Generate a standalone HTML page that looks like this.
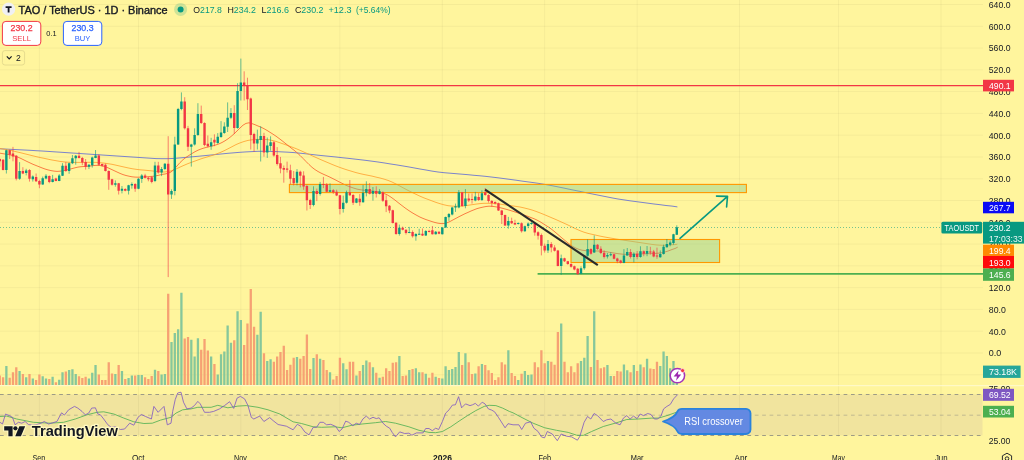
<!DOCTYPE html><html><head><meta charset="utf-8"><title>TAO / TetherUS chart</title><style>html,body{margin:0;padding:0;background:#FFF59D;overflow:hidden}svg{display:block}</style></head><body><svg width="1024" height="460" viewBox="0 0 1024 460" font-family="Liberation Sans, sans-serif">
<rect width="1024" height="460" fill="#FFF59D"/>
<rect x="0" y="394.4" width="982.5" height="41" fill="#F1E49E"/>
<path d="M0 394.5H982.5M0 435.5H982.5" stroke="#6A6D78" stroke-opacity="0.8" stroke-width="0.8" stroke-dasharray="3.7 3.7" fill="none"/>
<path d="M0 415.2H982.5" stroke="#6A6D78" stroke-opacity="0.45" stroke-width="0.8" stroke-dasharray="3.7 3.7" fill="none"/>
<path d="M0 374.8H983 M0 353.0H983 M0 331.2H983 M0 309.4H983 M0 287.7H983 M0 265.9H983 M0 244.1H983 M0 222.3H983 M0 200.5H983 M0 178.8H983 M0 157.0H983 M0 135.2H983 M0 113.4H983 M0 91.6H983 M0 69.9H983 M0 48.1H983 M0 26.3H983 M0 4.5H983 M0 -17.3H983 M39.4 0V437 M138.5 0V437 M240.9 0V437 M339.9 0V437 M442.3 0V437 M544.7 0V437 M637.2 0V437 M739.5 0V437 M838.6 0V437 M941.0 0V437" stroke="#000" stroke-opacity="0.038" stroke-width="1" fill="none"/>
<path d="M5.22 385V366.0H7.52V385ZM18.43 385V371.1H20.73V385ZM25.04 385V377.2H27.34V385ZM31.65 385V378.5H33.95V385ZM41.55 385V376.3H43.85V385ZM44.85 385V378.5H47.15V385ZM51.46 385V376.7H53.76V385ZM58.07 385V379.8H60.37V385ZM61.37 385V372.2H63.67V385ZM67.97 385V370.0H70.27V385ZM71.28 385V369.3H73.58V385ZM74.58 385V374.0H76.88V385ZM87.79 385V378.5H90.09V385ZM91.09 385V372.7H93.39V385ZM94.39 385V365.1H96.69V385ZM114.21 385V374.0H116.51V385ZM120.81 385V371.1H123.11V385ZM127.42 385V378.1H129.72V385ZM130.72 385V375.6H133.02V385ZM137.32 385V375.1H139.62V385ZM140.63 385V375.1H142.93V385ZM153.84 385V369.8H156.14V385ZM160.44 385V374.5H162.74V385ZM163.75 385V374.0H166.05V385ZM170.35 385V342.0H172.65V385ZM173.65 385V333.0H175.95V385ZM176.96 385V329.2H179.26V385ZM180.26 385V292.7H182.56V385ZM190.17 385V339.8H192.47V385ZM193.47 385V356.6H195.77V385ZM196.77 385V338.2H199.07V385ZM209.98 385V356.6H212.28V385ZM216.59 385V374.5H218.89V385ZM219.89 385V354.3H222.19V385ZM223.19 385V351.4H225.49V385ZM226.49 385V325.6H228.79V385ZM229.80 385V342.7H232.10V385ZM236.40 385V311.3H238.70V385ZM239.70 385V320.1H242.00V385ZM256.22 385V334.8H258.51V385ZM259.52 385V311.8H261.82V385ZM266.12 385V361.0H268.42V385ZM269.43 385V359.2H271.72V385ZM295.85 385V357.0H298.14V385ZM312.36 385V358.1H314.66V385ZM318.96 385V358.8H321.26V385ZM328.87 385V372.2H331.17V385ZM342.08 385V363.3H344.38V385ZM345.38 385V369.3H347.68V385ZM355.29 385V375.6H357.59V385ZM361.90 385V365.1H364.19V385ZM365.20 385V360.4H367.50V385ZM371.80 385V367.3H374.10V385ZM378.41 385V377.8H380.71V385ZM398.22 385V356.1H400.52V385ZM408.13 385V370.0H410.43V385ZM414.74 385V368.2H417.03V385ZM418.04 385V372.2H420.34V385ZM424.64 385V373.8H426.94V385ZM434.55 385V376.7H436.85V385ZM441.16 385V378.5H443.45V385ZM444.46 385V366.2H446.76V385ZM447.76 385V370.0H450.06V385ZM451.06 385V368.9H453.36V385ZM454.37 385V367.1H456.66V385ZM457.67 385V352.1H459.97V385ZM464.27 385V353.2H466.57V385ZM474.18 385V373.4H476.48V385ZM480.79 385V363.9H483.08V385ZM507.21 385V350.3H509.50V385ZM517.11 385V380.1H519.41V385ZM523.72 385V371.1H526.02V385ZM527.02 385V375.1H529.32V385ZM530.32 385V374.5H532.62V385ZM546.84 385V361.0H549.13V385ZM560.05 385V323.6H562.35V385ZM579.86 385V361.0H582.16V385ZM583.16 385V357.7H585.46V385ZM586.47 385V336.0H588.76V385ZM593.07 385V311.3H595.37V385ZM606.28 385V365.1H608.58V385ZM609.58 385V376.0H611.88V385ZM622.79 385V364.4H625.09V385ZM626.10 385V370.2H628.39V385ZM632.70 385V365.1H635.00V385ZM639.31 385V364.4H641.61V385ZM645.91 385V358.8H648.21V385ZM659.12 385V366.0H661.42V385ZM662.42 385V351.6H664.72V385ZM665.73 385V356.1H668.02V385ZM669.03 385V368.2H671.33V385ZM672.33 385V361.0H674.63V385ZM675.63 385V369.3H677.93V385Z" fill="#86C79B"/>
<path d="M-1.38 385V375.6H0.92V385ZM1.92 385V377.2H4.22V385ZM8.53 385V377.8H10.83V385ZM11.83 385V372.2H14.13V385ZM15.13 385V367.3H17.43V385ZM21.74 385V374.0H24.04V385ZM28.34 385V374.0H30.64V385ZM34.95 385V380.1H37.25V385ZM38.25 385V374.5H40.55V385ZM48.16 385V379.0H50.46V385ZM54.76 385V382.3H57.06V385ZM64.67 385V371.6H66.97V385ZM77.88 385V376.3H80.18V385ZM81.18 385V378.1H83.48V385ZM84.48 385V376.7H86.78V385ZM97.69 385V374.5H100.00V385ZM101.00 385V380.1H103.30V385ZM104.30 385V380.1H106.60V385ZM107.60 385V362.2H109.90V385ZM110.91 385V373.4H113.21V385ZM117.51 385V365.1H119.81V385ZM124.12 385V379.0H126.42V385ZM134.02 385V375.6H136.32V385ZM143.93 385V377.2H146.23V385ZM147.23 385V379.0H149.53V385ZM150.53 385V376.0H152.84V385ZM157.14 385V371.1H159.44V385ZM167.05 385V293.8H169.35V385ZM183.56 385V338.6H185.86V385ZM186.86 385V337.1H189.16V385ZM200.07 385V349.8H202.37V385ZM203.38 385V339.1H205.68V385ZM206.68 385V350.5H208.98V385ZM213.28 385V363.9H215.58V385ZM233.10 385V340.2H235.40V385ZM243.01 385V344.9H245.31V385ZM246.31 385V323.4H248.61V385ZM249.61 385V288.9H251.91V385ZM252.91 385V326.8H255.21V385ZM262.82 385V353.2H265.12V385ZM272.73 385V361.7H275.03V385ZM276.03 385V356.6H278.33V385ZM279.33 385V352.1H281.63V385ZM282.64 385V345.8H284.94V385ZM285.94 385V370.0H288.24V385ZM289.24 385V364.8H291.54V385ZM292.54 385V357.7H294.84V385ZM299.15 385V358.8H301.45V385ZM302.45 385V355.9H304.75V385ZM305.75 385V334.6H308.05V385ZM309.06 385V369.1H311.35V385ZM315.66 385V354.3H317.96V385ZM322.27 385V360.1H324.56V385ZM325.57 385V370.0H327.87V385ZM332.17 385V379.6H334.47V385ZM335.48 385V376.0H337.77V385ZM338.78 385V357.7H341.08V385ZM348.69 385V361.7H350.98V385ZM351.99 385V361.7H354.29V385ZM358.59 385V371.1H360.89V385ZM368.50 385V362.2H370.80V385ZM375.11 385V372.7H377.40V385ZM381.71 385V376.7H384.01V385ZM385.01 385V368.2H387.31V385ZM388.31 385V371.1H390.61V385ZM391.62 385V362.8H393.92V385ZM394.92 385V362.2H397.22V385ZM401.53 385V376.0H403.82V385ZM404.83 385V375.6H407.13V385ZM411.43 385V368.9H413.73V385ZM421.34 385V372.2H423.64V385ZM427.95 385V377.8H430.25V385ZM431.25 385V372.7H433.55V385ZM437.85 385V378.1H440.15V385ZM460.97 385V365.1H463.27V385ZM467.58 385V362.2H469.88V385ZM470.88 385V374.0H473.18V385ZM477.48 385V366.2H479.78V385ZM484.09 385V365.1H486.39V385ZM487.39 385V370.2H489.69V385ZM490.69 385V372.9H492.99V385ZM494.00 385V380.1H496.29V385ZM497.30 385V377.2H499.60V385ZM500.60 385V362.2H502.90V385ZM503.90 385V364.4H506.20V385ZM510.51 385V372.9H512.81V385ZM513.81 385V376.0H516.11V385ZM520.42 385V373.8H522.72V385ZM533.63 385V362.2H535.93V385ZM536.93 385V367.3H539.23V385ZM540.23 385V350.3H542.53V385ZM543.53 385V363.3H545.83V385ZM550.14 385V361.7H552.44V385ZM553.44 385V364.8H555.74V385ZM556.74 385V331.9H559.04V385ZM563.35 385V361.7H565.65V385ZM566.65 385V372.2H568.95V385ZM569.95 385V366.2H572.25V385ZM573.25 385V372.2H575.55V385ZM576.56 385V363.3H578.86V385ZM589.77 385V367.1H592.07V385ZM596.37 385V359.9H598.67V385ZM599.68 385V368.2H601.98V385ZM602.98 385V367.3H605.28V385ZM612.88 385V376.0H615.18V385ZM616.19 385V371.1H618.49V385ZM619.49 385V371.6H621.79V385ZM629.40 385V372.2H631.70V385ZM636.00 385V371.1H638.30V385ZM642.61 385V367.3H644.91V385ZM649.21 385V368.4H651.51V385ZM652.51 385V369.1H654.81V385ZM655.82 385V361.7H658.12V385Z" fill="#F6A173"/>
<path d="M0 385.7H1024" stroke="#FFFAD0" stroke-width="1"/>
<path d="M0.0 148.8L6.0 149.1L12.0 149.4L18.0 149.7L24.0 150.0L30.0 150.3L36.0 150.7L42.0 151.0L48.0 151.4L54.0 151.8L60.0 152.2L66.0 152.6L72.0 153.0L78.0 153.4L84.0 153.8L90.0 154.2L96.0 154.6L102.0 155.0L108.0 155.4L114.0 155.8L120.0 156.2L126.0 156.6L132.0 157.0L138.0 157.4L144.0 157.8L150.0 158.2L156.0 158.6L162.0 158.7L168.0 158.7L174.0 158.4L180.0 157.9L186.0 157.4L192.0 156.8L198.0 156.3L204.0 155.7L210.0 155.1L216.0 154.5L222.0 153.9L228.0 153.3L234.0 152.8L240.0 152.3L246.0 151.9L252.0 151.6L258.0 151.3L264.0 151.3L270.0 151.4L276.0 151.6L282.0 151.9L288.0 152.2L294.0 152.6L300.0 153.2L306.0 153.8L312.0 154.5L318.0 155.2L324.0 155.8L330.0 156.4L336.0 157.0L342.0 157.7L348.0 158.3L354.0 159.0L360.0 159.7L366.0 160.4L372.0 161.2L378.0 162.0L384.0 162.9L390.0 163.9L396.0 164.8L402.0 165.8L408.0 166.8L414.0 167.9L420.0 169.0L426.0 170.0L432.0 171.1L438.0 172.0L444.0 172.7L450.0 173.2L456.0 173.7L462.0 174.2L468.0 174.7L474.0 175.3L480.0 175.8L486.0 176.4L492.0 177.1L498.0 177.8L504.0 178.6L510.0 179.4L516.0 180.2L522.0 181.1L528.0 181.9L534.0 182.7L540.0 183.6L546.0 184.6L552.0 185.7L558.0 186.9L564.0 188.1L570.0 189.4L576.0 190.6L582.0 191.8L588.0 193.1L594.0 194.3L600.0 195.5L606.0 196.7L612.0 197.9L618.0 199.0L624.0 199.9L630.0 200.8L636.0 201.6L642.0 202.4L648.0 203.2L654.0 204.0L660.0 204.7L666.0 205.5L672.0 206.1L677.4 206.9" stroke="#6570D2" stroke-opacity="0.9" stroke-width="0.95" fill="none"/>
<path d="M0.0 148.5L4.0 149.2L8.0 149.9L12.0 150.7L16.0 151.7L20.0 152.6L24.0 153.6L28.0 154.6L32.0 155.6L36.0 156.6L40.0 157.5L44.0 158.3L48.0 159.2L52.0 160.0L56.0 160.7L60.0 161.4L64.0 161.9L68.0 162.2L72.0 162.4L76.0 162.4L80.0 162.4L84.0 162.4L88.0 162.3L92.0 162.3L96.0 162.4L100.0 162.7L104.0 163.1L108.0 163.7L112.0 164.3L116.0 165.2L120.0 166.1L124.0 167.0L128.0 167.9L132.0 168.7L136.0 169.3L140.0 169.8L144.0 170.1L148.0 170.5L152.0 170.9L156.0 171.4L160.0 171.8L164.0 172.0L168.0 171.6L172.0 170.6L176.0 169.0L180.0 167.1L184.0 165.3L188.0 163.6L192.0 162.1L196.0 160.7L200.0 159.2L204.0 157.9L208.0 156.7L212.0 155.5L216.0 154.1L220.0 152.6L224.0 150.8L228.0 148.8L232.0 146.7L236.0 144.6L240.0 142.9L244.0 141.5L248.0 140.4L252.0 139.8L256.0 139.4L260.0 139.4L264.0 139.4L268.0 139.7L272.0 140.4L276.0 141.4L280.0 142.8L284.0 144.2L288.0 145.6L292.0 147.1L296.0 148.6L300.0 150.3L304.0 152.1L308.0 153.9L312.0 155.7L316.0 157.5L320.0 159.3L324.0 161.0L328.0 162.7L332.0 164.4L336.0 166.0L340.0 167.5L344.0 168.9L348.0 170.2L352.0 171.4L356.0 172.6L360.0 173.6L364.0 174.5L368.0 175.3L372.0 176.1L376.0 177.1L380.0 178.0L384.0 179.1L388.0 180.4L392.0 182.0L396.0 184.0L400.0 186.1L404.0 188.3L408.0 190.4L412.0 192.4L416.0 194.3L420.0 196.2L424.0 197.9L428.0 199.4L432.0 200.9L436.0 202.4L440.0 203.7L444.0 204.8L448.0 205.7L452.0 206.1L456.0 206.3L460.0 206.2L464.0 205.9L468.0 205.3L472.0 204.7L476.0 204.1L480.0 203.6L484.0 203.3L488.0 203.3L492.0 203.4L496.0 203.7L500.0 204.1L504.0 204.7L508.0 205.2L512.0 205.8L516.0 206.4L520.0 207.0L524.0 207.9L528.0 208.9L532.0 210.0L536.0 211.4L540.0 212.9L544.0 214.5L548.0 216.2L552.0 217.9L556.0 219.6L560.0 221.4L564.0 223.2L568.0 225.0L572.0 227.0L576.0 228.9L580.0 230.7L584.0 232.2L588.0 233.4L592.0 234.3L596.0 235.2L600.0 236.1L604.0 236.9L608.0 237.6L612.0 238.3L616.0 239.0L620.0 239.6L624.0 240.2L628.0 240.8L632.0 241.4L636.0 242.0L640.0 242.6L644.0 243.2L648.0 243.8L652.0 244.4L656.0 244.9L660.0 245.2L664.0 245.3L668.0 245.2L672.0 244.8L676.0 244.5L677.4 244.1" stroke="#FF9F2E" stroke-opacity="0.9" stroke-width="0.9" fill="none"/>
<path d="M0.0 153.2L3.0 153.7L6.0 154.2L9.0 154.7L12.0 155.3L15.0 156.1L18.0 157.2L21.0 158.5L24.0 160.0L27.0 161.5L30.0 162.9L33.0 164.3L36.0 165.5L39.0 166.7L42.0 167.9L45.0 169.0L48.0 169.9L51.0 170.6L54.0 171.1L57.0 171.4L60.0 171.2L63.0 170.8L66.0 170.1L69.0 169.4L72.0 168.6L75.0 167.8L78.0 167.1L81.0 166.7L84.0 166.5L87.0 166.3L90.0 166.0L93.0 165.6L96.0 165.4L99.0 165.4L102.0 165.8L105.0 166.7L108.0 167.8L111.0 169.2L114.0 170.6L117.0 172.0L120.0 173.4L123.0 174.6L126.0 175.5L129.0 176.2L132.0 176.8L135.0 177.1L138.0 177.2L141.0 177.1L144.0 177.0L147.0 176.8L150.0 176.5L153.0 176.3L156.0 175.8L159.0 175.2L162.0 174.4L165.0 174.0L168.0 173.3L171.0 172.0L174.0 169.4L177.0 166.0L180.0 162.6L183.0 159.7L186.0 157.4L189.0 155.4L192.0 153.5L195.0 151.7L198.0 150.2L201.0 149.0L204.0 148.0L207.0 147.2L210.0 146.5L213.0 145.8L216.0 144.9L219.0 143.9L222.0 142.5L225.0 140.8L228.0 138.8L231.0 136.5L234.0 133.9L237.0 131.0L240.0 128.0L243.0 125.2L246.0 123.4L249.0 122.8L252.0 123.6L255.0 124.7L258.0 126.0L261.0 127.2L264.0 128.7L267.0 130.4L270.0 132.3L273.0 134.2L276.0 136.2L279.0 138.4L282.0 140.7L285.0 143.1L288.0 145.5L291.0 147.9L294.0 150.2L297.0 152.7L300.0 155.4L303.0 158.4L306.0 161.5L309.0 164.5L312.0 167.3L315.0 169.6L318.0 171.5L321.0 173.1L324.0 174.5L327.0 175.8L330.0 177.2L333.0 178.7L336.0 180.2L339.0 181.8L342.0 183.3L345.0 184.8L348.0 186.1L351.0 187.2L354.0 188.2L357.0 189.1L360.0 189.7L363.0 190.1L366.0 190.4L369.0 190.6L372.0 191.0L375.0 191.4L378.0 191.9L381.0 192.6L384.0 193.5L387.0 194.7L390.0 196.5L393.0 198.6L396.0 200.9L399.0 203.3L402.0 205.6L405.0 207.9L408.0 210.0L411.0 212.0L414.0 213.8L417.0 215.5L420.0 217.1L423.0 218.4L426.0 219.6L429.0 220.6L432.0 221.6L435.0 222.5L438.0 223.2L441.0 223.6L444.0 223.5L447.0 222.8L450.0 221.5L453.0 219.9L456.0 218.3L459.0 216.7L462.0 215.2L465.0 213.7L468.0 212.4L471.0 211.0L474.0 209.8L477.0 208.6L480.0 207.8L483.0 207.1L486.0 206.5L489.0 206.2L492.0 206.3L495.0 206.7L498.0 207.2L501.0 207.9L504.0 208.7L507.0 209.5L510.0 210.4L513.0 211.3L516.0 212.3L519.0 213.3L522.0 214.3L525.0 215.4L528.0 216.4L531.0 217.6L534.0 218.7L537.0 220.1L540.0 221.7L543.0 223.6L546.0 225.5L549.0 227.4L552.0 229.6L555.0 232.0L558.0 234.6L561.0 237.2L564.0 239.7L567.0 242.2L570.0 244.6L573.0 246.6L576.0 248.2L579.0 249.4L582.0 250.2L585.0 250.6L588.0 250.9L591.0 251.0L594.0 251.0L597.0 251.0L600.0 251.1L603.0 251.3L606.0 251.7L609.0 252.2L612.0 252.7L615.0 253.2L618.0 253.7L621.0 254.0L624.0 254.3L627.0 254.4L630.0 254.4L633.0 254.3L636.0 254.1L639.0 254.0L642.0 253.9L645.0 253.8L648.0 253.7L651.0 253.6L654.0 253.5L657.0 253.3L660.0 253.0L663.0 252.5L666.0 251.7L669.0 250.7L672.0 249.5L675.0 248.5L677.7 247.2" stroke="#F7602E" stroke-opacity="0.9" stroke-width="0.9" fill="none"/>
<rect x="289.4" y="184.4" width="457" height="8.2" fill="#80C88C" fill-opacity="0.4" stroke="#FF9800" stroke-width="1.1"/>
<rect x="571" y="239.5" width="148.6" height="23" fill="#80C88C" fill-opacity="0.4" stroke="#FF9800" stroke-width="1.1"/>
<path d="M0 85.6H983" stroke="#F23645" stroke-width="1.3"/>
<path d="M537.6 273.9H983" stroke="#4CAF50" stroke-width="1.8"/>
<path d="M0 227.5H941" stroke="#089981" stroke-width="1" stroke-dasharray="1 2" stroke-opacity="0.55"/>
<path d="M6.37 149.6V173.5M19.58 162.1V179.8M26.19 168.8V175.4M32.80 175.4V181.6M42.70 176.6V184.8M46.00 174.1V179.3M52.61 174.9V182.4M59.22 174.1V181.2M62.52 163.2V176.0M69.12 162.6V173.8M72.43 155.0V164.1M75.73 155.0V164.7M88.94 164.1V169.1M92.24 156.6V167.6M95.54 150.0V158.2M115.36 180.4V186.7M121.96 186.0V193.4M128.57 184.8V194.5M131.87 182.4V188.7M138.47 178.2V189.2M141.78 174.1V182.9M154.99 161.8V182.1M161.59 167.0V176.1M164.90 163.0V170.1M171.50 189.3V198.9M174.80 136.7V195.3M178.11 107.9V145.0M181.41 92.4V110.3M191.32 143.8V166.6M194.62 128.3V145.5M197.92 103.2V135.9M211.13 137.8V149.8M217.74 133.1V143.8M221.04 121.1V137.8M224.34 122.3V133.8M227.64 102.4V132.0M230.95 108.1V119.1M237.55 83.2V128.7M240.85 58.6V100.5M257.37 129.6V149.5M260.67 126.3V161.5M267.27 137.5V157.9M270.57 136.3V150.7M297.00 169.1V185.4M313.51 186.3V206.3M320.11 181.9V195.6M330.02 183.4V192.2M343.23 195.6V212.6M346.53 190.6V203.5M356.44 198.0V203.2M363.05 185.0V202.7M366.35 181.3V196.4M372.95 187.0V200.7M379.56 189.1V194.4M399.37 224.6V235.6M409.28 226.9V233.2M415.88 233.2V240.7M419.19 228.8V234.8M425.79 230.1V236.0M435.70 231.0V234.5M442.31 227.1V234.5M445.61 216.6V227.9M448.91 213.0V220.9M452.21 206.8V215.4M455.51 203.6V211.9M458.82 190.0V208.3M465.42 189.1V208.3M475.33 191.9V201.3M481.94 190.3V201.0M508.36 216.9V228.7M518.26 222.4V224.5M524.87 225.6V231.8M528.17 222.4V228.2M531.47 221.6V224.8M547.99 240.0V253.0M561.20 254.6V274.9M581.01 266.3V274.2M584.31 255.4V269.8M587.62 239.4V256.9M594.22 235.4V253.0M607.43 253.0V258.5M610.73 252.3V256.2M623.94 249.1V263.2M627.25 248.0V255.7M633.85 252.3V262.4M640.46 246.3V257.7M647.06 246.0V256.2M660.27 250.4V257.7M663.57 244.7V254.6M666.88 239.0V247.6M670.18 240.5V246.3M673.48 233.8V244.7M676.78 225.3V235.0" stroke="#089981" stroke-opacity="0.68" stroke-width="0.9" fill="none"/>
<path d="M-0.23 158.2V166.8M3.07 159.0V170.4M9.68 149.6V159.0M12.98 146.9V161.3M16.28 155.0V180.4M22.89 167.2V174.1M29.49 169.1V181.6M36.10 173.5V182.0M39.40 179.8V188.2M49.31 175.4V183.2M55.91 177.7V181.3M65.82 162.1V171.9M79.03 151.9V158.5M82.33 156.9V165.2M85.63 159.0V169.6M98.84 154.3V165.7M102.15 163.6V166.8M105.45 163.6V171.5M108.75 170.4V189.8M112.06 178.8V185.6M118.66 182.9V194.5M125.27 188.2V191.3M135.17 183.2V191.8M145.08 173.8V178.5M148.38 176.9V181.3M151.69 176.1V183.3M158.29 161.8V173.7M168.20 136.2V277.1M184.71 97.2V129.5M188.01 125.9V151.0M201.22 105.6V124.0M204.53 122.3V146.2M207.83 135.5V147.4M214.43 134.3V146.2M234.25 105.2V133.9M244.16 71.3V100.5M247.46 77.7V110.0M250.76 97.6V149.5M254.06 132.8V151.9M263.97 132.8V156.7M273.88 141.1V156.7M277.18 147.1V165.5M280.48 156.9V173.3M283.79 165.5V182.7M287.09 161.6V172.6M290.39 164.7V184.3M293.69 171.0V185.4M300.30 170.7V187.4M303.60 171.3V189.8M306.90 184.7V210.5M310.20 198.8V209.0M316.81 188.6V201.1M323.42 176.9V188.1M326.72 183.1V192.2M333.32 189.1V193.8M336.62 189.7V196.1M339.93 194.9V214.4M349.83 180.0V196.0M353.14 194.1V205.0M359.74 194.1V205.8M369.65 183.1V194.4M376.25 186.3V197.5M382.86 191.3V201.9M386.16 195.3V212.1M389.46 205.0V213.2M392.77 209.7V223.5M396.07 222.3V234.8M402.68 226.6V230.4M405.98 229.3V234.5M412.58 230.4V237.6M422.49 228.5V236.0M429.10 229.8V232.4M432.40 226.0V234.5M439.00 231.3V234.2M462.12 191.9V206.8M468.73 193.5V202.1M472.03 193.5V203.6M478.63 193.2V201.0M485.24 188.0V195.8M488.54 194.3V202.6M491.84 200.0V206.8M495.14 201.3V204.4M498.45 202.6V211.0M501.75 209.9V224.0M505.05 214.6V226.0M511.66 217.7V224.0M514.96 219.8V225.1M521.57 222.4V232.6M534.78 222.4V235.7M538.08 231.3V239.6M541.38 233.5V255.4M544.68 243.6V252.6M551.29 242.1V252.3M554.59 245.2V251.5M557.89 249.9V266.3M564.50 257.7V262.0M567.80 260.9V264.8M571.10 263.2V267.6M574.40 265.6V270.3M577.71 267.9V274.5M590.92 248.3V254.6M597.52 244.1V249.9M600.83 246.3V254.1M604.13 250.4V258.5M614.03 253.8V259.3M617.34 257.7V263.2M620.64 259.8V263.5M630.55 249.1V258.5M637.15 251.0V259.3M643.76 250.4V256.2M650.36 246.8V254.6M653.66 249.9V257.3M656.97 247.6V258.8" stroke="#F23645" stroke-opacity="0.68" stroke-width="0.9" fill="none"/>
<path d="M5.17 150.3H7.57V169.9H5.17ZM18.38 171.0H20.78V178.8H18.38ZM24.99 170.4H27.39V173.0H24.99ZM31.60 176.6H34.00V179.3H31.60ZM41.50 178.2H43.90V184.5H41.50ZM44.80 175.7H47.20V178.5H44.80ZM51.41 179.3H53.81V182.0H51.41ZM58.02 175.4H60.42V180.9H58.02ZM61.32 165.7H63.72V175.7H61.32ZM67.92 163.2H70.32V171.0H67.92ZM71.23 158.2H73.63V163.3H71.23ZM74.53 155.8H76.93V158.2H74.53ZM87.74 164.7H90.14V166.8H87.74ZM91.04 157.4H93.44V165.2H91.04ZM94.34 155.5H96.74V157.9H94.34ZM114.16 183.2H116.56V184.8H114.16ZM120.76 188.7H123.16V190.7H120.76ZM127.37 185.2H129.77V190.7H127.37ZM130.67 184.0H133.07V185.6H130.67ZM137.28 178.8H139.67V188.7H137.28ZM140.58 175.4H142.98V179.0H140.58ZM153.79 165.4H156.19V180.9H153.79ZM160.39 168.9H162.79V172.5H160.39ZM163.70 163.7H166.09V168.9H163.70ZM170.30 191.0H172.70V194.5H170.30ZM173.60 144.5H176.00V191.0H173.60ZM176.91 109.1H179.31V144.5H176.91ZM180.21 101.5H182.61V109.1H180.21ZM190.12 144.5H192.52V146.7H190.12ZM193.42 135.0H195.82V144.5H193.42ZM196.72 113.9H199.12V135.0H196.72ZM209.93 142.2H212.33V146.2H209.93ZM216.54 136.7H218.94V143.1H216.54ZM219.84 132.6H222.24V137.1H219.84ZM223.14 126.4H225.54V133.1H223.14ZM226.44 117.7H228.84V126.8H226.44ZM229.75 112.9H232.15V117.7H229.75ZM236.35 90.9H238.75V128.0H236.35ZM239.65 82.5H242.05V90.9H239.65ZM256.17 139.2H258.56V143.5H256.17ZM259.47 135.9H261.87V139.9H259.47ZM266.07 145.4H268.47V152.6H266.07ZM269.38 142.3H271.77V145.9H269.38ZM295.80 171.8H298.19V182.7H295.80ZM312.31 191.0H314.71V205.0H312.31ZM318.91 183.9H321.31V194.1H318.91ZM328.82 190.2H331.22V191.7H328.82ZM342.03 202.7H344.43V209.0H342.03ZM345.33 192.2H347.73V202.7H345.33ZM355.24 198.5H357.64V202.7H355.24ZM361.85 192.8H364.25V202.2H361.85ZM365.15 189.1H367.55V192.8H365.15ZM371.75 191.0H374.15V193.8H371.75ZM378.36 191.3H380.76V194.1H378.36ZM398.17 227.7H400.57V234.0H398.17ZM408.08 232.0H410.48V233.0H408.08ZM414.69 234.0H417.08V236.3H414.69ZM417.99 233.7H420.39V234.7H417.99ZM424.59 230.9H426.99V235.6H424.59ZM434.50 231.8H436.90V234.2H434.50ZM441.11 227.6H443.50V234.2H441.11ZM444.41 216.9H446.81V227.6H444.41ZM447.71 214.1H450.11V217.3H447.71ZM451.01 207.6H453.41V214.6H451.01ZM454.31 206.3H456.71V207.6H454.31ZM457.62 192.2H460.02V207.6H457.62ZM464.22 198.5H466.62V206.0H464.22ZM474.13 196.6H476.53V200.5H474.13ZM480.74 193.2H483.13V200.0H480.74ZM507.16 220.9H509.56V225.6H507.16ZM517.06 222.9H519.46V223.9H517.06ZM523.67 226.3H526.07V231.3H523.67ZM526.97 223.5H529.37V226.0H526.97ZM530.27 222.9H532.67V224.0H530.27ZM546.78 244.1H549.19V250.4H546.78ZM560.00 258.2H562.40V266.0H560.00ZM579.81 268.2H582.21V273.8H579.81ZM583.11 255.7H585.51V268.2H583.11ZM586.41 249.1H588.82V255.7H586.41ZM593.02 244.7H595.42V252.6H593.02ZM606.23 255.1H608.63V256.6H606.23ZM609.53 254.3H611.93V255.3H609.53ZM622.74 255.4H625.14V262.9H622.74ZM626.04 251.9H628.45V255.4H626.04ZM632.65 253.8H635.05V256.9H632.65ZM639.25 251.2H641.66V256.9H639.25ZM645.86 251.0H648.26V253.8H645.86ZM659.07 254.1H661.47V257.3H659.07ZM662.37 246.8H664.77V254.1H662.37ZM665.67 244.1H668.08V247.2H665.67ZM668.98 242.6H671.38V244.7H668.98ZM672.28 234.3H674.68V242.9H672.28ZM675.58 227.2H677.98V234.7H675.58Z" fill="#089981"/>
<path d="M-1.43 159.0H0.97V161.3H-1.43ZM1.87 159.7H4.27V169.9H1.87ZM8.48 150.3H10.88V154.7H8.48ZM11.78 153.5H14.18V156.6H11.78ZM15.08 155.8H17.48V178.8H15.08ZM21.69 171.0H24.09V173.5H21.69ZM28.29 169.9H30.69V178.8H28.29ZM34.90 176.9H37.30V181.3H34.90ZM38.20 180.9H40.60V184.5H38.20ZM48.11 175.9H50.51V182.0H48.11ZM54.71 178.5H57.11V180.9H54.71ZM64.62 165.7H67.02V171.0H64.62ZM77.83 155.8H80.23V157.9H77.83ZM81.13 157.9H83.53V162.6H81.13ZM84.43 162.1H86.83V166.8H84.43ZM97.64 155.5H100.05V164.7H97.64ZM100.95 164.1H103.35V165.7H100.95ZM104.25 164.7H106.65V171.0H104.25ZM107.55 171.0H109.95V179.8H107.55ZM110.86 179.3H113.26V184.8H110.86ZM117.46 183.2H119.86V190.7H117.46ZM124.07 189.0H126.47V190.7H124.07ZM133.97 184.0H136.37V188.7H133.97ZM143.88 175.4H146.28V177.7H143.88ZM147.18 177.7H149.58V179.3H147.18ZM150.49 177.3H152.88V182.1H150.49ZM157.09 165.4H159.49V172.5H157.09ZM167.00 163.7H169.40V194.5H167.00ZM183.51 101.5H185.91V128.3H183.51ZM186.81 128.3H189.21V146.7H186.81ZM200.02 113.9H202.42V123.0H200.02ZM203.33 123.0H205.72V145.0H203.33ZM206.63 143.8H209.03V146.2H206.63ZM213.23 139.8H215.63V142.6H213.23ZM233.05 112.9H235.45V128.0H233.05ZM242.96 82.5H245.36V86.1H242.96ZM246.26 86.1H248.66V99.3H246.26ZM249.56 98.5H251.96V135.1H249.56ZM252.86 133.9H255.26V143.5H252.86ZM262.77 135.9H265.17V152.6H262.77ZM272.68 142.3H275.08V155.5H272.68ZM275.98 155.0H278.38V163.9H275.98ZM279.28 163.2H281.68V168.6H279.28ZM282.59 167.9H284.99V169.7H282.59ZM285.89 168.6H288.29V169.7H285.89ZM289.19 170.2H291.59V178.8H289.19ZM292.49 178.0H294.89V183.2H292.49ZM299.10 171.8H301.50V175.7H299.10ZM302.40 175.4H304.80V186.6H302.40ZM305.70 185.9H308.10V200.3H305.70ZM309.00 200.0H311.40V205.0H309.00ZM315.61 191.0H318.01V194.1H315.61ZM322.22 183.9H324.62V185.0H322.22ZM325.52 184.4H327.92V191.7H325.52ZM332.12 190.2H334.52V192.2H332.12ZM335.43 191.7H337.82V195.6H335.43ZM338.73 195.3H341.13V209.0H338.73ZM348.63 192.2H351.03V195.3H348.63ZM351.94 194.9H354.34V202.7H351.94ZM358.54 198.8H360.94V202.2H358.54ZM368.45 189.1H370.85V193.8H368.45ZM375.06 191.0H377.45V193.8H375.06ZM381.66 192.2H384.06V200.7H381.66ZM384.96 200.3H387.36V206.3H384.96ZM388.26 205.8H390.66V210.5H388.26ZM391.57 210.2H393.97V223.0H391.57ZM394.87 222.7H397.27V234.0H394.87ZM401.48 227.7H403.88V229.8H401.48ZM404.78 229.8H407.18V232.9H404.78ZM411.38 232.0H413.78V236.3H411.38ZM421.29 233.7H423.69V235.6H421.29ZM427.90 230.9H430.30V231.9H427.90ZM431.20 230.3H433.60V234.2H431.20ZM437.80 231.8H440.20V233.8H437.80ZM460.92 192.2H463.32V206.0H460.92ZM467.53 198.5H469.93V200.5H467.53ZM470.83 199.0H473.23V200.0H470.83ZM477.43 196.9H479.83V200.0H477.43ZM484.04 192.2H486.44V195.0H484.04ZM487.34 195.0H489.74V201.0H487.34ZM490.64 201.0H493.04V202.9H490.64ZM493.94 202.1H496.34V203.6H493.94ZM497.25 203.2H499.65V210.4H497.25ZM500.55 210.4H502.95V215.1H500.55ZM503.85 215.1H506.25V225.6H503.85ZM510.46 220.9H512.86V223.2H510.46ZM513.76 222.9H516.16V224.5H513.76ZM520.37 223.2H522.77V231.3H520.37ZM533.58 223.2H535.98V232.6H533.58ZM536.88 232.3H539.28V235.7H536.88ZM540.18 235.0H542.58V245.7H540.18ZM543.48 245.7H545.88V250.4H543.48ZM550.09 244.1H552.49V247.6H550.09ZM553.39 247.6H555.79V250.7H553.39ZM556.69 250.4H559.09V266.0H556.69ZM563.30 258.2H565.70V261.3H563.30ZM566.60 261.3H569.00V264.0H566.60ZM569.90 264.0H572.30V266.7H569.90ZM573.20 266.3H575.61V269.5H573.20ZM576.51 268.7H578.91V274.2H576.51ZM589.72 249.1H592.12V253.8H589.72ZM596.32 244.7H598.72V249.1H596.32ZM599.62 248.8H602.03V253.0H599.62ZM602.93 252.7H605.33V256.9H602.93ZM612.83 254.3H615.24V258.8H612.83ZM616.14 258.5H618.54V261.3H616.14ZM619.44 260.4H621.84V262.9H619.44ZM629.35 251.9H631.75V256.9H629.35ZM635.95 253.8H638.35V256.9H635.95ZM642.56 251.2H644.96V253.8H642.56ZM649.16 251.5H651.56V252.5H649.16ZM652.46 251.5H654.87V256.6H652.46ZM655.77 255.4H658.17V256.6H655.77Z" fill="#F23645"/>
<path d="M485.1 189.6L597.8 265.2" stroke="#2A2A2A" stroke-width="2.1"/>
<path d="M680 238.3L727.5 196.4M716.5 196.1L727.5 196.4L726.6 207" stroke="#089981" stroke-width="1.6" fill="none" stroke-linecap="round" stroke-linejoin="round"/>
<path d="M0.0 416.5L6.7 416.1L16.7 419.0L33.5 422.3L50.2 423.2L63.6 422.3L75.3 419.0L87.0 414.8L97.0 412.3L103.7 411.8L113.8 414.0L123.8 418.1L133.8 421.8L143.9 423.5L152.3 423.2L160.6 420.1L171.0 417.3L176.0 413.1L182.7 409.8L191.1 408.9L197.8 407.3L211.2 407.3L217.8 405.3L227.9 407.8L237.9 406.1L246.3 405.6L258.0 407.3L268.0 409.8L279.8 414.0L293.1 421.8L301.5 423.5L313.2 426.8L321.6 427.3L335.0 426.8L342.0 427.8L352.0 425.2L362.1 424.0L375.5 422.7L385.5 421.5L395.5 423.2L408.9 426.8L419.0 430.3L429.0 432.4L435.7 432.7L442.4 431.5L450.8 426.8L459.1 421.1L467.5 415.6L475.8 410.6L484.2 406.4L489.2 405.3L495.9 405.6L502.6 408.1L509.3 411.4L513.0 412.8L523.0 418.1L533.1 423.2L544.8 427.8L556.5 430.3L568.2 432.4L576.6 435.2L583.3 435.4L591.6 431.5L603.3 426.5L615.1 423.2L626.8 419.5L638.5 419.0L651.9 418.1L658.6 418.1L666.9 415.6L677.8 411.8" stroke="#4CAF50" stroke-opacity="0.9" stroke-width="0.9" fill="none" stroke-linejoin="round"/>
<path d="M0.0 422.3L2.5 424.0L5.5 414.0L9.2 415.6L12.5 417.3L15.1 424.8L18.4 422.3L21.8 423.2L25.1 421.5L28.4 424.5L32.6 425.2L36.0 424.8L41.0 423.2L44.3 421.5L48.5 424.0L52.7 422.8L56.9 421.5L61.6 412.8L64.4 415.1L68.6 409.8L74.5 406.4L77.8 408.1L82.0 411.4L85.3 414.8L88.7 413.1L91.7 408.1L95.4 407.8L97.9 414.0L100.4 414.8L103.7 419.0L107.9 424.8L111.3 427.3L115.4 426.8L120.5 429.5L124.6 429.0L129.7 423.2L133.8 425.2L138.0 417.3L141.4 414.5L145.6 416.5L151.4 419.0L153.9 406.4L158.1 412.3L164.0 406.4L167.3 424.8L171.0 423.2L172.7 411.4L175.2 399.7L177.7 393.0L181.0 392.2L183.5 402.2L186.9 408.9L191.1 408.1L194.4 405.6L197.8 401.4L200.3 403.9L204.5 412.3L209.5 412.3L213.7 411.4L219.5 408.9L224.5 405.6L229.6 401.7L233.7 408.4L237.1 398.1L240.4 396.4L244.6 398.9L248.0 405.6L251.3 417.3L253.8 419.0L259.7 416.1L263.9 421.5L269.7 417.6L273.1 420.6L278.1 424.5L286.4 426.2L293.1 429.8L297.3 424.3L300.7 426.2L304.8 431.9L309.0 434.9L313.2 427.3L316.6 427.3L319.9 422.3L323.3 422.3L326.6 424.8L330.8 424.3L335.8 426.5L339.1 431.5L342.0 429.0L345.7 421.1L348.7 422.3L352.9 425.7L356.2 423.2L359.6 424.5L362.9 419.0L366.3 416.1L369.6 419.0L373.0 417.3L376.3 418.6L379.1 417.8L383.0 423.2L386.3 426.2L389.7 428.2L392.2 432.4L395.5 436.9L399.7 431.9L404.7 433.5L408.9 433.2L411.9 435.2L416.5 432.9L423.1 432.9L425.7 428.5L429.0 428.5L432.3 430.7L435.7 428.2L438.7 429.5L442.4 421.5L445.7 413.1L449.1 409.8L452.4 405.1L455.4 404.8L458.6 396.7L461.6 407.8L465.5 403.9L470.0 405.6L472.5 404.8L475.3 403.4L478.4 406.1L482.2 402.2L485.0 403.9L488.4 408.9L491.7 410.1L494.6 411.8L498.4 417.3L505.1 427.8L508.0 423.7L513.0 424.8L518.9 424.8L521.7 429.5L525.5 423.2L530.6 421.8L533.9 428.2L538.1 431.5L541.4 436.9L544.5 437.9L547.3 431.5L552.3 434.0L557.3 440.7L561.2 434.0L566.5 436.2L571.6 436.9L577.4 440.2L579.9 436.2L584.1 422.3L587.5 416.5L590.8 419.0L594.1 413.5L597.5 415.6L603.3 421.5L606.7 419.8L610.9 419.0L615.9 423.2L620.1 424.8L623.4 418.1L626.8 415.6L630.1 419.0L633.5 416.1L637.1 418.6L640.2 414.0L643.5 415.6L647.7 413.5L651.0 414.5L654.4 419.0L657.7 419.0L661.1 415.6L663.6 408.9L666.9 406.4L670.3 404.4L673.6 398.9L677.8 394.4" stroke="#7E57C2" stroke-opacity="0.9" stroke-width="0.9" fill="none" stroke-linejoin="round"/>
<circle cx="677.4" cy="375.6" r="7.2" fill="#fff" stroke="#A434B8" stroke-width="1.5"/>
<path d="M678.6 370.6L673.6 376.6H677L676 380.8L681.2 374.6H677.8Z" fill="#9C27B0"/>
<circle cx="682.6" cy="370.6" r="2" fill="#F23645" stroke="#fff" stroke-width="0.6"/>
<path d="M682 408.8H746a4.5 4.5 0 0 1 4.5 4.5V429.5a4.5 4.5 0 0 1 -4.5 4.5H682Q678.5 434 677.5 431.5Q675 425.5 663 421.5Q675 417.5 677.5 411.3Q678.5 408.8 682 408.8Z" fill="#6389E2" stroke="#2A82DC" stroke-width="1.8" stroke-linejoin="round"/>
<text x="713.5" y="425" font-size="10.5" fill="#fff" text-anchor="middle" textLength="58.5" lengthAdjust="spacingAndGlyphs">RSI crossover</text>
<text x="988.8" y="356.3" font-size="9.2" fill="#131722" textLength="12.5" lengthAdjust="spacingAndGlyphs">0.0</text>
<text x="988.8" y="334.5" font-size="9.2" fill="#131722" textLength="17" lengthAdjust="spacingAndGlyphs">40.0</text>
<text x="988.8" y="312.7" font-size="9.2" fill="#131722" textLength="17" lengthAdjust="spacingAndGlyphs">80.0</text>
<text x="988.8" y="291.0" font-size="9.2" fill="#131722" textLength="21.7" lengthAdjust="spacingAndGlyphs">120.0</text>
<text x="988.8" y="269.2" font-size="9.2" fill="#131722" textLength="21.7" lengthAdjust="spacingAndGlyphs">160.0</text>
<text x="988.8" y="247.4" font-size="9.2" fill="#131722" textLength="21.7" lengthAdjust="spacingAndGlyphs">200.0</text>
<text x="988.8" y="225.6" font-size="9.2" fill="#131722" textLength="21.7" lengthAdjust="spacingAndGlyphs">240.0</text>
<text x="988.8" y="203.8" font-size="9.2" fill="#131722" textLength="21.7" lengthAdjust="spacingAndGlyphs">280.0</text>
<text x="988.8" y="182.1" font-size="9.2" fill="#131722" textLength="21.7" lengthAdjust="spacingAndGlyphs">320.0</text>
<text x="988.8" y="160.3" font-size="9.2" fill="#131722" textLength="21.7" lengthAdjust="spacingAndGlyphs">360.0</text>
<text x="988.8" y="138.5" font-size="9.2" fill="#131722" textLength="21.7" lengthAdjust="spacingAndGlyphs">400.0</text>
<text x="988.8" y="116.7" font-size="9.2" fill="#131722" textLength="21.7" lengthAdjust="spacingAndGlyphs">440.0</text>
<text x="988.8" y="94.9" font-size="9.2" fill="#131722" textLength="21.7" lengthAdjust="spacingAndGlyphs">480.0</text>
<text x="988.8" y="73.2" font-size="9.2" fill="#131722" textLength="21.7" lengthAdjust="spacingAndGlyphs">520.0</text>
<text x="988.8" y="51.4" font-size="9.2" fill="#131722" textLength="21.7" lengthAdjust="spacingAndGlyphs">560.0</text>
<text x="988.8" y="29.6" font-size="9.2" fill="#131722" textLength="21.7" lengthAdjust="spacingAndGlyphs">600.0</text>
<text x="988.8" y="7.8" font-size="9.2" fill="#131722" textLength="21.7" lengthAdjust="spacingAndGlyphs">640.0</text>
<text x="988.8" y="-14.0" font-size="9.2" fill="#131722" textLength="21.7" lengthAdjust="spacingAndGlyphs">680.0</text>
<text x="988.8" y="391.5" font-size="9.2" fill="#131722" textLength="21.5" lengthAdjust="spacingAndGlyphs">75.00</text>
<text x="988.8" y="443.5" font-size="9.2" fill="#131722" textLength="21.5" lengthAdjust="spacingAndGlyphs">25.00</text>
<rect x="983" y="79.8" width="31" height="11.6" fill="#F23645"/>
<text x="989" y="88.9" font-size="9.2" fill="#fff" textLength="21.7" lengthAdjust="spacingAndGlyphs">490.1</text>
<rect x="983" y="201.8" width="31" height="11.5" fill="#0A0AF5"/>
<text x="989" y="210.9" font-size="9.2" fill="#fff" textLength="21.7" lengthAdjust="spacingAndGlyphs">267.7</text>
<rect x="983" y="221.8" width="41" height="21.8" fill="#089981"/>
<text x="989" y="231.2" font-size="9.2" fill="#fff" textLength="21.7" lengthAdjust="spacingAndGlyphs">230.2</text>
<text x="989" y="241.6" font-size="9.2" fill="#fff" fill-opacity="0.9" textLength="33.5" lengthAdjust="spacingAndGlyphs">17:03:33</text>
<rect x="941.4" y="221.8" width="40.8" height="11.6" rx="1.5" fill="#089981"/>
<text x="944.6" y="231.3" font-size="9.6" fill="#fff" textLength="34.5" lengthAdjust="spacingAndGlyphs">TAOUSDT</text>
<rect x="983" y="244.7" width="31" height="11.2" fill="#FF8A00"/>
<text x="989" y="253.6" font-size="9.2" fill="#fff" textLength="21.7" lengthAdjust="spacingAndGlyphs">199.4</text>
<rect x="983" y="255.9" width="31" height="12.6" fill="#FF0A0A"/>
<text x="989" y="265.5" font-size="9.2" fill="#fff" textLength="21.7" lengthAdjust="spacingAndGlyphs">193.0</text>
<rect x="983" y="268.5" width="31" height="12.3" fill="#4CAF50"/>
<text x="989" y="277.9" font-size="9.2" fill="#fff" textLength="21.7" lengthAdjust="spacingAndGlyphs">145.6</text>
<rect x="983" y="365.6" width="37.60000000000002" height="12.3" fill="#26A69A"/>
<text x="989" y="375.1" font-size="9.2" fill="#fff" textLength="28" lengthAdjust="spacingAndGlyphs">73.18K</text>
<rect x="983" y="388.8" width="31" height="12.0" fill="#7E57C2"/>
<text x="989" y="398.1" font-size="9.2" fill="#fff" textLength="21.7" lengthAdjust="spacingAndGlyphs">69.52</text>
<rect x="983" y="405.8" width="31" height="11.7" fill="#4CAF50"/>
<text x="989" y="414.9" font-size="9.2" fill="#fff" textLength="21.7" lengthAdjust="spacingAndGlyphs">53.04</text>
<text x="32.4" y="460.5" font-size="9.2" fill="#131722" textLength="12.75" lengthAdjust="spacingAndGlyphs">Sep</text>
<text x="131.9" y="460.5" font-size="9.2" fill="#131722" textLength="12.75" lengthAdjust="spacingAndGlyphs">Oct</text>
<text x="234.0" y="460.5" font-size="9.2" fill="#131722" textLength="12.75" lengthAdjust="spacingAndGlyphs">Nov</text>
<text x="334.1" y="460.5" font-size="9.2" fill="#131722" textLength="12.75" lengthAdjust="spacingAndGlyphs">Dec</text>
<text x="432.9" y="460.5" font-size="9.2" font-weight="bold" fill="#131722" textLength="19" lengthAdjust="spacingAndGlyphs">2026</text>
<text x="538.4" y="460.5" font-size="9.2" fill="#131722" textLength="12.75" lengthAdjust="spacingAndGlyphs">Feb</text>
<text x="630.8" y="460.5" font-size="9.2" fill="#131722" textLength="12.75" lengthAdjust="spacingAndGlyphs">Mar</text>
<text x="734.6" y="460.5" font-size="9.2" fill="#131722" textLength="12.75" lengthAdjust="spacingAndGlyphs">Apr</text>
<text x="832.1" y="460.5" font-size="9.2" fill="#131722" textLength="12.75" lengthAdjust="spacingAndGlyphs">May</text>
<text x="934.9" y="460.5" font-size="9.2" fill="#131722" textLength="12.75" lengthAdjust="spacingAndGlyphs">Jun</text>
<path d="M1007 453.2L1011.6 455.8V461.2L1007 463.8L1002.4 461.2V455.8Z" fill="none" stroke="#131722" stroke-width="0.9"/><circle cx="1007" cy="458.6" r="1.8" fill="none" stroke="#131722" stroke-width="0.9"/>
<circle cx="8.6" cy="9.2" r="6.6" fill="#F0F0F3"/>
<path d="M5.6 6.2H11.6V8H9.5V12.4H7.7V8H5.6Z" fill="#131722"/>
<text x="18.6" y="13.7" font-size="10.3" fill="#131722" stroke="#131722" stroke-width="0.35" textLength="149" lengthAdjust="spacingAndGlyphs">TAO / TetherUS · 1D · Binance</text>
<circle cx="180.6" cy="9.4" r="6.5" fill="#089981" fill-opacity="0.2"/><circle cx="180.6" cy="9.4" r="3" fill="#089981"/>
<text x="193.3" y="12.8" font-size="8.8" fill="#089981" textLength="28.5" lengthAdjust="spacingAndGlyphs"><tspan fill="#131722">O</tspan>217.8</text>
<text x="227.5" y="12.8" font-size="8.8" fill="#089981" textLength="28.5" lengthAdjust="spacingAndGlyphs"><tspan fill="#131722">H</tspan>234.2</text>
<text x="261.5" y="12.8" font-size="8.8" fill="#089981" textLength="27.5" lengthAdjust="spacingAndGlyphs"><tspan fill="#131722">L</tspan>216.6</text>
<text x="295" y="12.8" font-size="8.8" fill="#089981" textLength="28.5" lengthAdjust="spacingAndGlyphs"><tspan fill="#131722">C</tspan>230.2</text>
<text x="328.5" y="12.8" font-size="8.8" fill="#089981" textLength="23" lengthAdjust="spacingAndGlyphs">+12.3</text>
<text x="356" y="12.8" font-size="8.8" fill="#089981" textLength="34.5" lengthAdjust="spacingAndGlyphs">(+5.64%)</text>
<rect x="2.4" y="21.4" width="38.4" height="24" rx="3.5" fill="#fff" stroke="#F23645" stroke-width="1"/>
<text x="21.6" y="31" font-size="8.8" fill="#F23645" stroke="#F23645" stroke-width="0.25" text-anchor="middle">230.2</text>
<text x="21.6" y="40.6" font-size="7.6" fill="#F23645" text-anchor="middle">SELL</text>
<text x="51.5" y="35.5" font-size="7.4" fill="#131722" text-anchor="middle">0.1</text>
<rect x="63.4" y="21.4" width="38.4" height="24" rx="3.5" fill="#fff" stroke="#2962FF" stroke-width="1"/>
<text x="82.6" y="31" font-size="8.8" fill="#2962FF" stroke="#2962FF" stroke-width="0.25" text-anchor="middle">230.3</text>
<text x="82.6" y="40.6" font-size="7.6" fill="#2962FF" text-anchor="middle">BUY</text>
<rect x="2.4" y="50.6" width="22.2" height="14.4" rx="2.5" fill="#FFF59D" stroke="#E6DC8E" stroke-width="1"/>
<path d="M6.8 56.4L9.2 58.8L11.6 56.4" stroke="#131722" stroke-width="1.2" fill="none"/>
<text x="16" y="61" font-size="8.6" fill="#131722">2</text>
<g stroke="#FFF8C0" stroke-width="2.4" stroke-linejoin="round" fill="#131722"><path d="M4.2 426.2H12.6V436.2H8.4V430.4H4.2Z"/><circle cx="15.4" cy="428.3" r="2.1"/><path d="M19.4 426.2H25.2L20.9 436.2H15.2Z"/></g>
<g fill="#131722"><path d="M4.2 426.2H12.6V436.2H8.4V430.4H4.2Z"/><circle cx="15.4" cy="428.3" r="2.1"/><path d="M19.4 426.2H25.2L20.9 436.2H15.2Z"/></g>
<text x="31.8" y="436.2" font-size="14" font-weight="bold" fill="#131722" stroke="#FFF8C0" stroke-width="2.6" stroke-linejoin="round" textLength="86" lengthAdjust="spacingAndGlyphs">TradingView</text>
<text x="31.8" y="436.2" font-size="14" font-weight="bold" fill="#131722" textLength="86" lengthAdjust="spacingAndGlyphs">TradingView</text>
</svg></body></html>
